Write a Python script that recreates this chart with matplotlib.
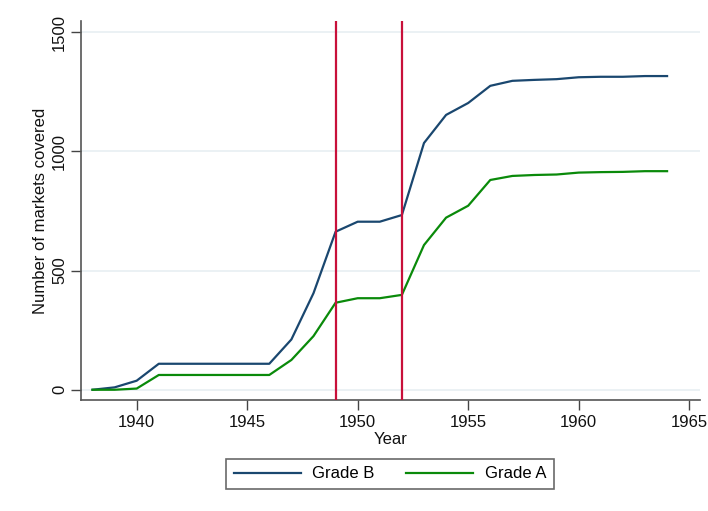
import matplotlib
matplotlib.use("Agg")
import matplotlib.pyplot as plt

years = list(range(1938, 1965))
grade_b = [0, 10, 38, 109, 109, 109, 109, 109, 109, 211, 405, 663, 705, 705, 733,
           1035, 1153, 1203, 1275, 1296, 1300, 1303, 1311, 1313, 1313, 1316, 1316]
grade_a = [0, 0, 5, 62, 62, 62, 62, 62, 62, 125, 225, 365, 384, 384, 398,
           607, 722, 772, 880, 897, 901, 903, 911, 913, 914, 917, 917]
vlines = [1949, 1952]
xticks = [1940, 1945, 1950, 1955, 1960, 1965]
yticks = [0, 500, 1000, 1500]

plt.rcParams['font.family'] = ['Liberation Sans', 'DejaVu Sans']

fig = plt.figure(figsize=(7.08, 5.11), dpi=100)
ax = fig.add_axes([81/708, 1 - 400/511, (700-81)/708, (400-21)/511])

for y in yticks:
    ax.axhline(y, color='#e8eff2', lw=1.2, zorder=0)

ax.plot(years, grade_b, color='#1a476f', lw=1.6, label='Grade B', zorder=2)
ax.plot(years, grade_a, color='#0a8a0a', lw=1.6, label='Grade A', zorder=2)
for v in vlines:
    ax.axvline(v, color='#c8103a', lw=1.6, zorder=3)

ax.set_xlim(1937.48, 1965.49)
ax.set_ylim(-43, 1547)
ax.set_xticks(xticks)
ax.set_yticks(yticks)
ax.set_yticklabels([str(t) for t in yticks], rotation=90, va='center')
ax.tick_params(axis='both', direction='out', length=7, width=1, color='#444444',
               labelsize=12, labelcolor='#111111')
ax.tick_params(axis='x', pad=4)
ax.tick_params(axis='y', pad=3)

for s in ['top', 'right']:
    ax.spines[s].set_visible(False)
for s in ['left', 'bottom']:
    ax.spines[s].set_color('#555555')
    ax.spines[s].set_linewidth(1.2)

ax.set_xlabel('Year', fontsize=12, labelpad=1, color='#111111')
ax.set_ylabel('Number of markets covered', fontsize=12, labelpad=3, color='#111111')

leg = fig.legend(loc='center', bbox_to_anchor=(390/708, 1 - 474/511), ncol=2,
                 fontsize=12, frameon=True, fancybox=False, handlelength=4.0,
                 columnspacing=1.9, handletextpad=0.7, borderpad=0.45,
                 borderaxespad=0)
leg.get_frame().set_edgecolor('#444444')
leg.get_frame().set_linewidth(1.2)

fig.savefig('out.png', dpi=100, facecolor='white')
